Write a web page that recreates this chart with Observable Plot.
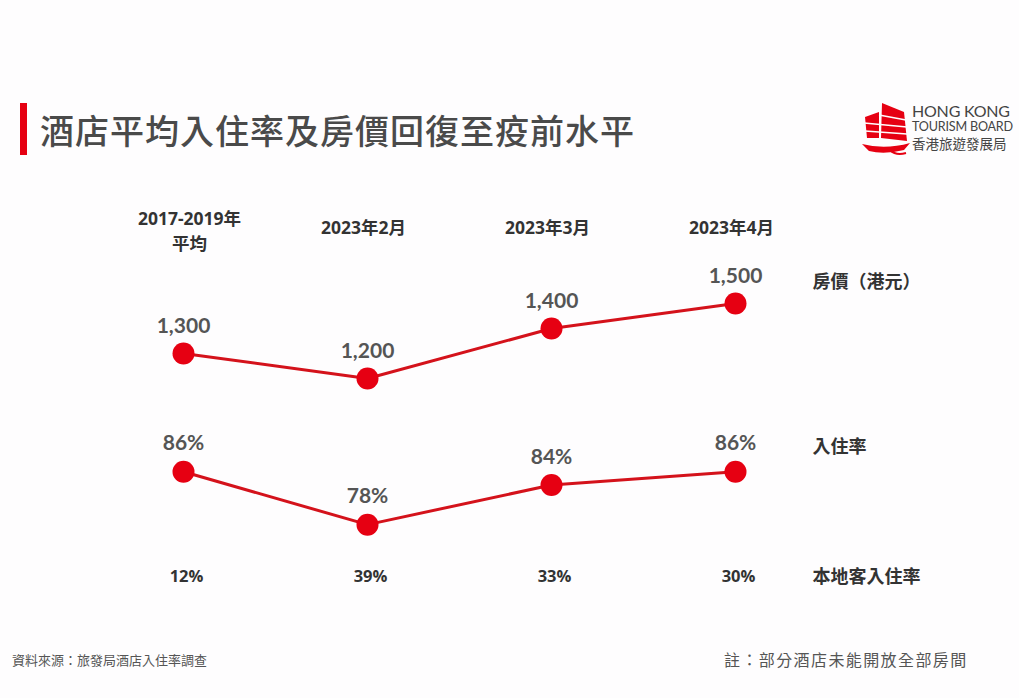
<!DOCTYPE html>
<html>
<head>
<meta charset="utf-8">
<script src="https://cdn.jsdelivr.net/npm/d3@7"></script>
<script src="https://cdn.jsdelivr.net/npm/@observablehq/plot@0.6"></script>
<style>
  html, body { margin: 0; padding: 0; }
  body { width: 1019px; height: 698px; background: #fefdfe; position: relative; overflow: hidden; font-family: "Noto Sans CJK TC", sans-serif; }
  .abs { position: absolute; }
  #bar { left: 20px; top: 103px; width: 7px; height: 52px; background: #e60012; }
  #title { left: 40px; top: 108px; font-size: 34px; letter-spacing: 0px; color: #4a4a4a; font-weight: 500; line-height: 44px; white-space: nowrap; }
  #logoText { left: 912px; top: 103px; color: #444; line-height: 1; white-space: nowrap; }
  #logoText .l1 { font-family: Lato, sans-serif; font-size: 16px; letter-spacing: -0.2px; height: 17px; }
  #logoText .l2 { font-family: Lato, sans-serif; font-size: 12.6px; letter-spacing: -0.2px; margin-top: 1px; height: 14px; }
  #logoText .l3 { font-family: "Noto Sans CJK TC", sans-serif; font-size: 13.5px; margin-top: 2px; }
  #src { left: 12px; top: 650px; font-size: 13px; color: #555; white-space: nowrap; }
  #note { left: 724px; top: 647px; font-size: 16px; letter-spacing: 1.4px; color: #555; white-space: nowrap; }
  #p1 { left: 0; top: 190px; }
  #p2 { left: 0; top: 410px; }
  svg { overflow: visible; }
</style>
</head>
<body>
<div id="bar" class="abs"></div>
<div id="title" class="abs">酒店平均入住率及房價回復至疫前水平</div>
<svg class="abs" style="left:860px;top:100px" width="52" height="58" viewBox="0 0 52 58">
  <path d="M22 3 L44 12 L47 41 L21 38 Z" fill="#e60012"/>
  <path d="M5 17 L19 12 L19 38 L7 38 Z" fill="#e60012"/>
  <path d="M2 44 Q25 50 50 43 L44 50 Q24 55 9 51 Z" fill="#e60012"/>
  <path d="M30 50 Q36 56 46 53" stroke="#e60012" stroke-width="2" fill="none"/>
  <g stroke="#fefdfe" stroke-width="1.6">
    <line x1="19" y1="15" x2="46" y2="20"/>
    <line x1="4" y1="23" x2="47" y2="27"/>
    <line x1="5" y1="31" x2="47" y2="34"/>
    <line x1="20" y1="3" x2="20" y2="40"/>
  </g>
</svg>
<div id="logoText" class="abs">
  <div class="l1">HONG KONG</div>
  <div class="l2">TOURISM BOARD</div>
  <div class="l3">香港旅遊發展局</div>
</div>
<div id="p1" class="abs"></div>
<div id="p2" class="abs"></div>
<div id="src" class="abs">資料來源：旅發局酒店入住率調查</div>
<div id="note" class="abs">註：部分酒店未能開放全部房間</div>
<script>
const categories = ["2017-2019年\n平均", "2023年2月", "2023年3月", "2023年4月"];
const price = [1300, 1200, 1400, 1500];
const occupancy = [86, 78, 84, 86];
const localShare = [12, 39, 33, 30];
const rowLabels = ["房價（港元）", "入住率", "本地客入住率"];

// fit the title to the reference's width
(function () {
  const t = document.getElementById("title");
  const n = t.textContent.length;
  const w = t.getBoundingClientRect().width;
  t.style.letterSpacing = ((595 - w) / n) + "px";
})();

const priceData = categories.map((c, i) => ({c, v: price[i]}));
const occData = categories.map((c, i) => ({c, v: occupancy[i]}));
const localData = categories.map((c, i) => ({c, v: localShare[i]}));

const LINE = "#d4121b", DOT = "#e60012", LABEL = "#555", DARK = "#333";
const numFont = "Lato, sans-serif";
const cjkFont = "'Noto Sans CJK TC', sans-serif";
const hdrFont = "'Open Sans', 'Noto Sans CJK TC', sans-serif";
const xOpt = {type: "point", domain: categories, padding: 0, axis: null};
const hdrStyle = {lineAnchor: "middle", lineHeight: 1.45, fontSize: 17.5, fontWeight: 700, fill: DARK, fontFamily: hdrFont};

const p1 = Plot.plot({
  width: 1019, height: 220,
  marginLeft: 182, marginRight: 284, marginTop: 88, marginBottom: 7,
  x: xOpt,
  y: {domain: [1100, 1600], axis: null},
  marks: [
    Plot.line(priceData, {x: "c", y: "v", stroke: LINE, strokeWidth: 3}),
    Plot.dot(priceData, {x: "c", y: "v", r: 11, fill: DOT}),
    Plot.text(priceData, {x: "c", y: "v", text: d => d3.format(",")(d.v), dy: -27,
      fontSize: 21, fontWeight: 700, fill: LABEL, fontFamily: numFont}),
    Plot.text(categories.slice(0, 1), {x: d => d, text: d => d, frameAnchor: "top", dy: -49, dx: 6, ...hdrStyle}),
    Plot.text(categories.slice(1), {x: d => d, text: d => d, frameAnchor: "top", dy: -53, dx: -4, ...hdrStyle}),
    Plot.text([rowLabels[0]], {text: d => d, frameAnchor: "top-right", dx: 77, dy: -3,
      textAnchor: "start", fontSize: 18, fontWeight: 700, fill: DARK, fontFamily: cjkFont, letterSpacing: 1})
  ]
});
document.getElementById("p1").append(p1);

const p2 = Plot.plot({
  width: 1019, height: 200,
  marginLeft: 182, marginRight: 284, marginTop: 48, marginBottom: 66,
  x: xOpt,
  y: {domain: [75, 88], axis: null},
  marks: [
    Plot.line(occData, {x: "c", y: "v", stroke: LINE, strokeWidth: 3}),
    Plot.dot(occData, {x: "c", y: "v", r: 11, fill: DOT}),
    Plot.text(occData, {x: "c", y: "v", text: d => d.v + "%", dy: -28,
      fontSize: 21, fontWeight: 700, fill: LABEL, fontFamily: numFont}),
    Plot.text(localData, {x: "c", text: d => d.v + "%", frameAnchor: "bottom", dy: 37, dx: 3,
      fontSize: 16.5, fontWeight: 700, fill: DARK, fontFamily: hdrFont}),
    Plot.text([rowLabels[1]], {text: d => d, frameAnchor: "top-right", dx: 77, dy: -18,
      textAnchor: "start", fontSize: 18, fontWeight: 700, fill: DARK, fontFamily: cjkFont, letterSpacing: 1}),
    Plot.text([rowLabels[2]], {text: d => d, frameAnchor: "bottom-right", dx: 77, dy: 38,
      textAnchor: "start", fontSize: 18, fontWeight: 700, fill: DARK, fontFamily: cjkFont, letterSpacing: 1})
  ]
});
document.getElementById("p2").append(p2);
</script>
</body>
</html>
